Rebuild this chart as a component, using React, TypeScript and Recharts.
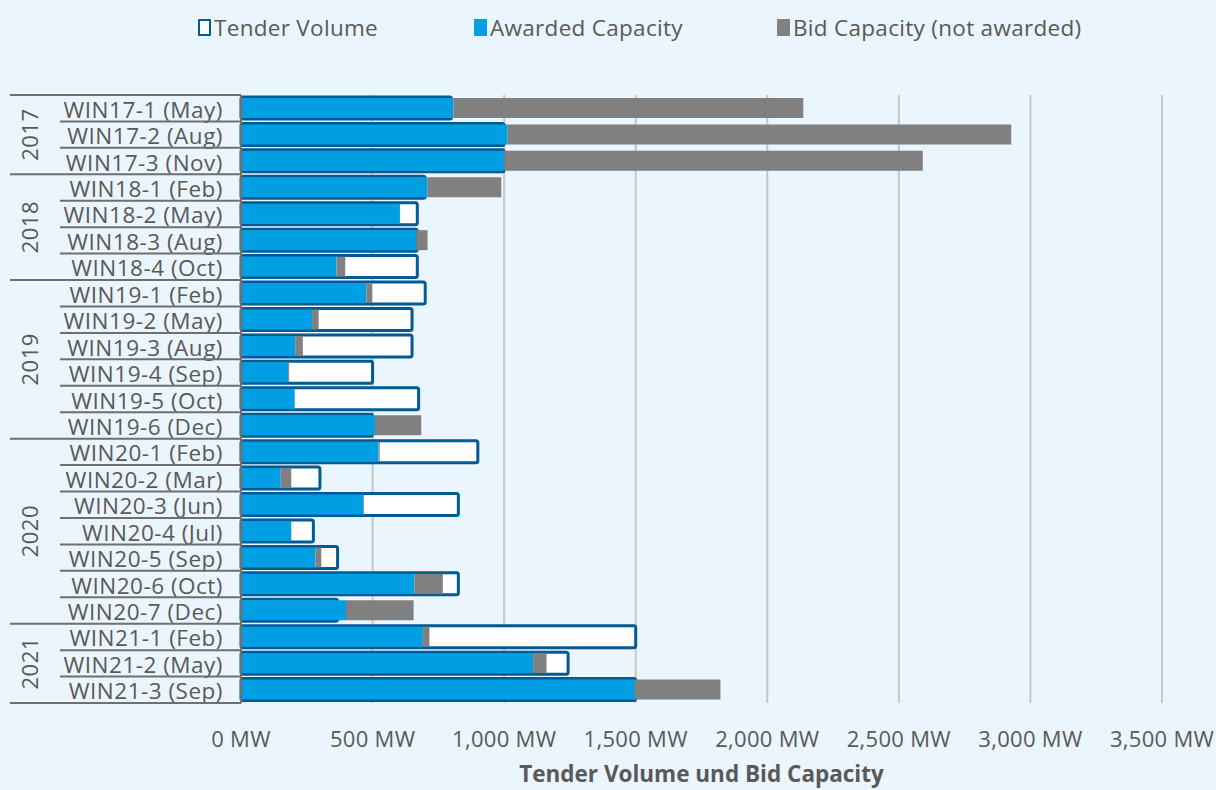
import { BarChart, Bar, XAxis, YAxis, CartesianGrid } from "recharts";

// tender rounds (Ausschreibungen Wind an Land)
const rounds = [
  "WIN17-1 (May)", "WIN17-2 (Aug)", "WIN17-3 (Nov)",
  "WIN18-1 (Feb)", "WIN18-2 (May)", "WIN18-3 (Aug)", "WIN18-4 (Oct)",
  "WIN19-1 (Feb)", "WIN19-2 (May)", "WIN19-3 (Aug)", "WIN19-4 (Sep)", "WIN19-5 (Oct)", "WIN19-6 (Dec)",
  "WIN20-1 (Feb)", "WIN20-2 (Mar)", "WIN20-3 (Jun)", "WIN20-4 (Jul)", "WIN20-5 (Sep)", "WIN20-6 (Oct)", "WIN20-7 (Dec)",
  "WIN21-1 (Feb)", "WIN21-2 (May)", "WIN21-3 (Sep)",
];
const years = ["2017", "2018", "2019", "2020", "2021"];
const roundsPerYear = [3, 4, 6, 7, 3];

// MW
const tenderVolume = [800, 1000, 1000, 700, 670, 670, 670, 700, 650, 650, 500, 675, 500, 900, 300, 826, 275, 367, 826, 367, 1500, 1243, 1500];
const awarded = [807, 1013, 1000, 709, 604, 666, 363, 476, 270, 206, 179, 204, 509, 523, 151, 464, 191, 283, 659, 399, 691, 1110, 1496];
const notAwarded = [1330, 1914, 1591, 280, 0, 43, 33, 23, 25, 29, 4, 0, 176, 4, 40, 3, 0, 22, 108, 257, 25, 51, 326];

const xTicks = [0, 500, 1000, 1500, 2000, 2500, 3000, 3500];

const data = rounds.map((name, i) => ({
  name,
  tender: tenderVolume[i],
  awarded: awarded[i],
  notAwarded: notAwarded[i],
}));

const FONT = "'Open Sans', 'Noto Sans', sans-serif";
const TXT = "#595959";
const LINE = "#6f6f6f";

// first index of each year group
const groupStart: number[] = [];
{
  let acc = 0;
  roundsPerYear.forEach((n) => {
    groupStart.push(acc);
    acc += n;
  });
}

function CategoryTick(props: any) {
  const { x, y, payload } = props;
  const idx = payload.index;
  const half = payload.offset || 13.2;
  const axisX = x + 18;
  const top = y - half;
  const g = groupStart.indexOf(idx);
  const last = idx === rounds.length - 1;
  const yearY = g >= 0 ? top + roundsPerYear[g] * half : 0;
  return (
    <g>
      <text
        x={x}
        y={y + 1}
        textAnchor="end"
        dominantBaseline="central"
        fill={TXT}
        fontSize={22.5}
        letterSpacing={0.5}
        fontFamily={FONT}
      >
        {payload.value}
      </text>
      <line x1={g >= 0 ? axisX - 231 : axisX - 181} x2={axisX} y1={top} y2={top} stroke={LINE} strokeWidth={2} />
      {last && <line x1={axisX - 231} x2={axisX} y1={y + half} y2={y + half} stroke={LINE} strokeWidth={2} />}
      {g >= 0 && (
        <text
          x={axisX - 212}
          y={yearY}
          textAnchor="middle"
          dominantBaseline="central"
          fill={TXT}
          fontSize={22}
          letterSpacing={0.5}
          fontFamily={FONT}
          transform={`rotate(-90 ${axisX - 212} ${yearY})`}
        >
          {years[g]}
        </text>
      )}
    </g>
  );
}

function LegendItem({ left, color, outline, label }: { left: number; color: string; outline?: boolean; label: string }) {
  return (
    <div style={{ position: "absolute", left, top: 12, display: "flex", alignItems: "center" }}>
      <span
        style={{
          display: "inline-block",
          width: outline ? 9 : 13,
          height: outline ? 13 : 17,
          background: outline ? "#fff" : color,
          border: outline ? `2.5px solid ${color}` : "none",
          borderRadius: 1,
          marginRight: 3,
        }}
      />
      <span style={{ fontSize: 22.5, letterSpacing: 0.3, color: TXT, fontFamily: FONT }}>{label}</span>
    </div>
  );
}

export default function App() {
  return (
    <div style={{ position: "fixed", left: 0, top: 0, width: 1216, height: 790, background: "#EAF5FD", overflow: "hidden" }}>
      <LegendItem left={198} color="#035A94" outline label="Tender Volume" />
      <LegendItem left={474} color="#009FE3" label="Awarded Capacity" />
      <LegendItem left={777} color="#808080" label="Bid Capacity (not awarded)" />
      <BarChart
        width={1216}
        height={790}
        data={data}
        layout="vertical"
        margin={{ top: 95, right: 54, left: 10, bottom: 17 }}
        style={{ position: "absolute", left: 0, top: 0 }}
      >
        <CartesianGrid xAxisId="v" yAxisId="cat" horizontal={false} stroke="#c6c6c6" strokeWidth={2} />
        <XAxis
          xAxisId="v"
          type="number"
          domain={[0, 3500]}
          ticks={xTicks}
          tickFormatter={(v: number) => `${v.toLocaleString("en-US")} MW`}
          axisLine={false}
          tickLine={false}
          tickMargin={22}
          height={70}
          tick={{ fontSize: 22, letterSpacing: 0.3, fill: TXT, fontFamily: FONT }}
          label={{
            value: "Tender Volume und Bid Capacity",
            position: "insideBottom",
            offset: -9,
            style: { fontSize: 22.5, fontWeight: 700, fill: TXT, fontFamily: FONT },
          }}
        />
        <XAxis xAxisId="t" type="number" domain={[0, 3500]} height={0} hide />
        <YAxis
          yAxisId="cat"
          type="category"
          dataKey="name"
          width={231}
          interval={0}
          tickSize={0}
          tickMargin={18}
          axisLine={{ stroke: LINE, strokeWidth: 2 }}
          tickLine={false}
          tick={<CategoryTick />}
        />
        <YAxis yAxisId="tender" type="category" dataKey="name" width={0} hide />
        <Bar
          xAxisId="t"
          yAxisId="tender"
          dataKey="tender"
          name="Tender Volume"
          fill="#ffffff"
          stroke="#035A94"
          strokeWidth={3}
          barSize={22}
          radius={2}
          isAnimationActive={false}
        />
        <Bar
          xAxisId="v"
          yAxisId="cat"
          dataKey="awarded"
          name="Awarded Capacity"
          stackId="bids"
          fill="#009FE3"
          barSize={20}
          isAnimationActive={false}
        />
        <Bar
          xAxisId="v"
          yAxisId="cat"
          dataKey="notAwarded"
          name="Bid Capacity (not awarded)"
          stackId="bids"
          fill="#808080"
          barSize={20}
          isAnimationActive={false}
        />
      </BarChart>
    </div>
  );
}
